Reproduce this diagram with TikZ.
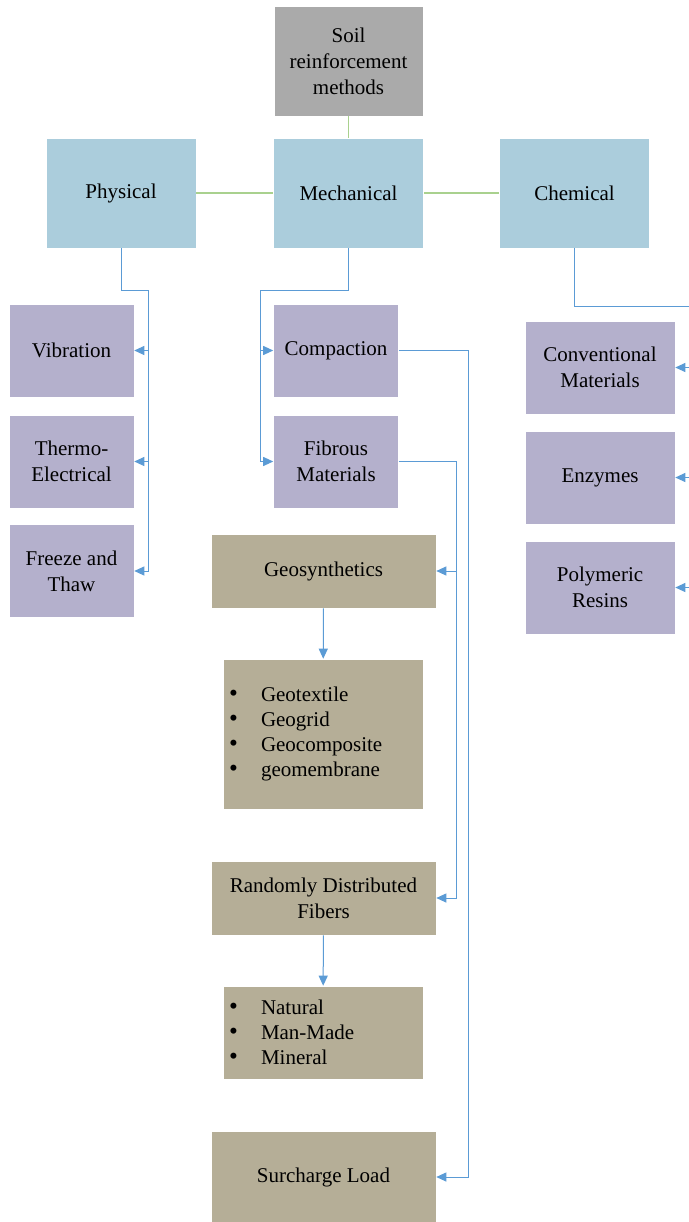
\documentclass[tikz,border=0pt]{standalone}
\usepackage{fontspec}
\usepackage{graphicx}
\setmainfont{Liberation Serif}
\usetikzlibrary{arrows.meta}
\definecolor{rootgray}{RGB}{170,170,170}
\definecolor{familyblue}{RGB}{171,205,220}
\definecolor{techpurple}{RGB}{180,176,204}
\definecolor{materialtan}{RGB}{181,174,151}
\definecolor{linkgreen}{RGB}{169,209,142}
\definecolor{connblue}{RGB}{91,155,213}
\newcommand{\bulletentry}[1]{\makebox[32pt][l]{\scalebox{1.2}{\textbullet}}#1}
\begin{document}
\begin{tikzpicture}[x=1pt, y=-1pt,
box/.style={rectangle, draw=white, line width=0.6pt, align=center, inner sep=0pt, font=\fontsize{21}{26}\selectfont},
method/.style={box, fill=rootgray, minimum width=149pt, minimum height=110pt},
family/.style={box, fill=familyblue, minimum width=150pt, minimum height=110pt},
technique/.style={box, fill=techpurple, minimum width=125pt, minimum height=93pt},
material/.style={box, fill=materialtan, minimum width=225pt, minimum height=74pt},
bullets/.style={box, fill=materialtan, minimum width=200pt, text width=188pt, align=left, font=\fontsize{21}{25}\selectfont},
link/.style={draw=linkgreen, line width=1.2pt},
conn/.style={draw=connblue, line width=1pt, -{Triangle[length=10pt,width=9pt]}},
]
\path[fill=white, use as bounding box] (0,0) rectangle (688,1222);
\node[method] (S) at (348.5,61) {Soil\\reinforcement\\methods};
\node[family] (P) at (121,193) {Physical};
\node[family] (M) at (348.5,193) {Mechanical};
\node[family] (C) at (574.5,193) {Chemical};
\node[technique] (P1) at (71.5,350.5) {Vibration};
\node[technique] (P2) at (71.5,461.5) {Thermo-\\Electrical};
\node[technique] (P3) at (71.5,571) {Freeze and\\Thaw};
\node[technique] (M1) at (336,350.5) {Compaction};
\node[technique] (M2) at (336,461.5) {Fibrous\\Materials};
\node[technique, minimum width=150pt] (C1) at (600,367.5) {Conventional\\Materials};
\node[technique, minimum width=150pt] (C2) at (600,477.5) {Enzymes};
\node[technique, minimum width=150pt] (C3) at (600,587.5) {Polymeric\\Resins};
\node[material] (G) at (323.5,571) {Geosynthetics};
\node[bullets, minimum height=150pt] (GL) at (323,734)
  {\bulletentry{Geotextile}\\\bulletentry{Geogrid}\\\bulletentry{Geocomposite}\\\bulletentry{geomembrane}};
\node[material] (R) at (323.5,898) {Randomly Distributed\\Fibers};
\node[bullets, minimum height=93pt] (RL) at (323,1032.5)
  {\bulletentry{Natural}\\\bulletentry{Man-Made}\\\bulletentry{Mineral}};
\node[material, minimum height=92pt] (L) at (323.5,1177) {Surcharge Load};
\coordinate (Pbus) at (148,291);
\coordinate (Mbus) at (260,291);
\coordinate (Cbus) at (695,306);
\coordinate (M1bus) at (468,350.5);
\coordinate (M2bus) at (456,461.5);
\draw[link] (S) -- (M);
\draw[link] (P) -- (M);
\draw[link] (M) -- (C);
\draw[conn] (P.south) |- (Pbus) |- (P1.east);
\draw[conn] (P.south) |- (Pbus) |- (P2.east);
\draw[conn] (P.south) |- (Pbus) |- (P3.east);
\draw[conn] (M.south) |- (Mbus) |- (M1.west);
\draw[conn] (M.south) |- (Mbus) |- (M2.west);
\draw[conn] (C.south) |- (Cbus) |- (C1.east);
\draw[conn] (C.south) |- (Cbus) |- (C2.east);
\draw[conn] (C.south) |- (Cbus) |- (C3.east);
\draw[conn] (M1.east) -- (M1bus) |- (L.east);
\draw[conn] (M2.east) -- (M2bus) |- (G.east);
\draw[conn] (M2.east) -- (M2bus) |- (R.east);
\draw[conn] (G) -- (GL);
\draw[conn] (R) -- (RL);
\end{tikzpicture}
\end{document}
